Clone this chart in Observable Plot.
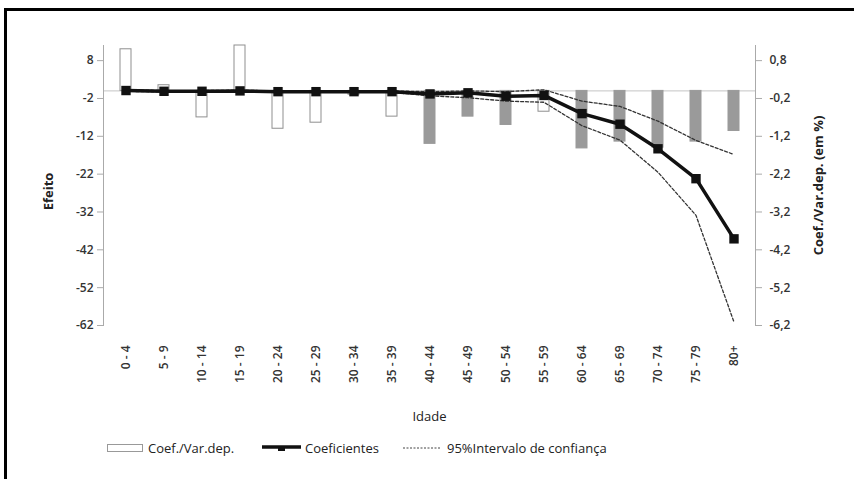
<!DOCTYPE html>
<html><head><meta charset="utf-8">
<script src="https://cdn.jsdelivr.net/npm/d3@7"></script>
<script src="https://cdn.jsdelivr.net/npm/@observablehq/plot@0.6"></script>
<style>
body{margin:0;background:#fff;font-family:"Open Sans",sans-serif;}
#wrap{position:relative;width:854px;height:479px;overflow:hidden;background:#fff;}
#border{position:absolute;left:4px;top:8px;width:900px;height:500px;border-top:3px solid #000;border-left:3px solid #000;pointer-events:none;}
#chart{position:absolute;left:0;top:0;}
.lg{position:absolute;top:439px;height:18px;display:flex;align-items:center;font-size:13px;color:#222;white-space:nowrap;}
.lg svg{display:block;margin-right:4px;}
</style></head>
<body>
<div id="wrap">
<div id="chart"></div>
<div id="border"></div>
<div class="lg" style="left:107px"><svg width="37" height="10"><rect x="0.5" y="1.5" width="35" height="7" fill="#fff" stroke="#999"/></svg>Coef./Var.dep.</div>
<div class="lg" style="left:262px"><svg width="39" height="12"><line x1="0" x2="39" y1="5" y2="5" stroke="#111" stroke-width="3.5"/><rect x="16" y="5" width="7" height="4" fill="#111"/></svg>Coeficientes</div>
<div class="lg" style="left:403px"><svg width="40" height="10"><line x1="0" x2="38" y1="5" y2="5" stroke="#444" stroke-width="1" stroke-dasharray="2,1.5"/></svg>95%Intervalo de confiança</div>
</div>
<script>
const categories = ["0 - 4","5 - 9","10 - 14","15 - 19","20 - 24","25 - 29","30 - 34","35 - 39","40 - 44","45 - 49","50 - 54","55 - 59","60 - 64","65 - 69","70 - 74","75 - 79","80+"];
// Coef./Var.dep. (em %) — right axis
const coefVarDep = [1.1, 0.15, -0.7, 1.2, -1.0, -0.84, -0.1, -0.68, -1.4, -0.68, -0.9, -0.55, -1.52, -1.34, -1.5, -1.34, -1.06];
const significant = [false, false, false, false, false, false, false, false, true, true, true, false, true, true, true, true, true];
// Coeficientes (Efeito) — left axis
const coeficientes = [0.1, -0.1, -0.1, 0, -0.2, -0.2, -0.2, -0.2, -0.8, -0.5, -1.4, -1.2, -6.0, -8.8, -15.3, -23.2, -39.1];
const upper = [0.3, 0.1, 0.1, 0.2, 0, 0, 0, 0, -0.2, 0, -0.2, 0.3, -2.7, -4.1, -8.0, -13.1, -16.8];
const lower = [-0.1, -0.3, -0.3, -0.2, -0.4, -0.4, -0.4, -0.4, -1.3, -1.8, -2.7, -3.0, -9.2, -13.0, -21.5, -32.9, -61.1];
const leftTicks = [8, -2, -12, -22, -32, -42, -52, -62];
const yDomain = [-62, 12];

const data = categories.map((c, i) => ({cat: c, pct: coefVarDep[i], sig: significant[i], coef: coeficientes[i], hi: upper[i], lo: lower[i]}));

const chart = Plot.plot({
  width: 854, height: 430,
  marginTop: 45, marginBottom: 105, marginLeft: 103, marginRight: 99,
  style: {fontFamily: "Open Sans, sans-serif", fontSize: "12px", color: "#333", background: "transparent", overflow: "visible"},
  x: {domain: categories, paddingInner: 0.72, paddingOuter: 0.36},
  y: {domain: yDomain},
  marks: [
    Plot.ruleY([0], {stroke: "#c4c4c4"}),
    Plot.barY(data, {x: "cat", y: d => d.pct * 10, fill: d => d.sig ? "#9a9a9a" : "#ffffff", stroke: d => d.sig ? "#9a9a9a" : "#8f8f8f", strokeWidth: 1}),
    Plot.line(data, {x: "cat", y: "hi", stroke: "#333", strokeWidth: 1.3, strokeDasharray: "3,2"}),
    Plot.line(data, {x: "cat", y: "lo", stroke: "#333", strokeWidth: 1.3, strokeDasharray: "3,2"}),
    Plot.line(data, {x: "cat", y: "coef", stroke: "#111", strokeWidth: 3.5}),
    Plot.dot(data, {x: "cat", y: "coef", symbol: "square", r: 5.3, fill: "#111"}),
    Plot.frame({anchor: "left", stroke: "#aaa"}),
    Plot.frame({anchor: "right", stroke: "#aaa"}),
    Plot.axisY({anchor: "left", ticks: leftTicks, tickFormat: d => String(d), tickSize: 6, tickPadding: 4, stroke: "#aaa", fill: "#333", fontWeight: 600, fontSize: 12, label: null}),
    Plot.axisY({anchor: "right", ticks: leftTicks, tickFormat: d => (d / 10).toFixed(1).replace(".", ","), tickSize: 6, tickPadding: 8, stroke: "#aaa", fill: "#333", fontWeight: 600, fontSize: 12, label: null}),
    Plot.axisX({tickRotate: -90, tickSize: 0, tickPadding: 20, fill: "#333", fontWeight: 600, fontSize: 12, label: null}),
    Plot.text(["Efeito"], {frameAnchor: "left", textAnchor: "middle", dx: -55, dy: 6, rotate: -90, fontWeight: "bold", fontSize: 13, fill: "#222"}),
    Plot.text(["Coef./Var.dep. (em %)"], {frameAnchor: "right", textAnchor: "middle", dx: 63, rotate: -90, fontWeight: "bold", fontSize: 13, fill: "#222"}),
    Plot.text(["Idade"], {frameAnchor: "bottom", dy: 95, fontSize: 13, fill: "#222"})
  ]
});
document.getElementById("chart").appendChild(chart);
</script>
</body></html>
